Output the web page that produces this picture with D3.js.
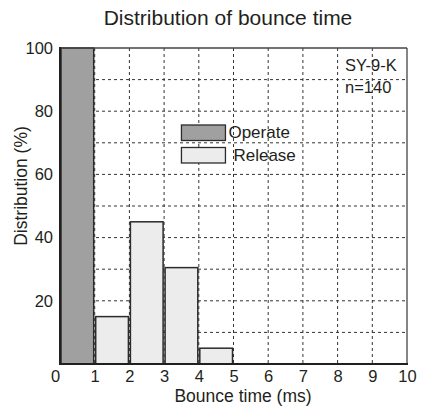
<!DOCTYPE html>
<html>
<head>
<meta charset="utf-8">
<script src="https://cdn.jsdelivr.net/npm/d3@7"></script>
<style>
  body { margin: 0; background: #fff; }
  text { font-family: "Liberation Sans", Arial, sans-serif; fill: #231f20; }
</style>
</head>
<body>
<script>
	// bins (ms) and percent values
	var operateBins = [[0, 1]];
	var operateValues = [100];
	var releaseBins = [[1, 2], [2, 3], [3, 4], [4, 5]];
	var releaseValues = [15, 45, 30.5, 5];
	var xTicks = [0, 1, 2, 3, 4, 5, 6, 7, 8, 9, 10];
	var yTicks = [20, 40, 60, 80, 100];
	var gridY = [10, 20, 30, 40, 50, 60, 70, 80, 90];
	var gridX = [1, 2, 3, 4, 5, 6, 7, 8, 9];
	var legendNames = ["Operate", "Release"];
	var colors = ["#a0a0a0", "#ececec"];

	var svg_w = 424, svg_h = 409;
	var svg = d3.select("body").append("svg")
		.attr("width", svg_w)
		.attr("height", svg_h);

	// plot box (window.top is read-only, so use other names)
	var pLeft = 60, pRight = 407, pTop = 48, pBottom = 364;

	var x = d3.scaleLinear().domain([0, 10]).range([pLeft, pRight]);
	var y = d3.scaleLinear().domain([0, 100]).range([pBottom, pTop]);

	// dashed grid
	var grid = svg.append("g")
		.attr("stroke", "#333")
		.attr("stroke-width", 1)
		.attr("stroke-dasharray", "3,3");
	grid.selectAll(".gy").data(gridY).enter().append("line")
		.attr("x1", pLeft).attr("x2", pRight)
		.attr("y1", d => y(d)).attr("y2", d => y(d));
	grid.selectAll(".gx").data(gridX).enter().append("line")
		.attr("y1", pTop).attr("y2", pBottom)
		.attr("x1", d => x(d)).attr("x2", d => x(d));

	// bars
	function drawBars(bins, values, color) {
		svg.append("g").selectAll("rect")
			.data(bins)
			.enter()
			.append("rect")
			.attr("x", d => x(d[0]) + 1)
			.attr("width", d => x(d[1]) - x(d[0]) - 2)
			.attr("y", (d, i) => y(values[i]))
			.attr("height", (d, i) => y(0) - y(values[i]))
			.attr("fill", color)
			.attr("stroke", "#2b2b2b")
			.attr("stroke-width", 1.5);
	}
	drawBars(operateBins, operateValues, colors[0]);
	drawBars(releaseBins, releaseValues, colors[1]);

	// frame
	svg.append("line").attr("x1", pLeft).attr("x2", pRight).attr("y1", pTop).attr("y2", pTop)
		.attr("stroke", "#444").attr("stroke-width", 1.3);
	svg.append("line").attr("x1", pRight).attr("x2", pRight).attr("y1", pTop).attr("y2", pBottom)
		.attr("stroke", "#444").attr("stroke-width", 1.3);
	svg.append("line").attr("x1", pLeft).attr("x2", pLeft).attr("y1", pTop - 1).attr("y2", pBottom + 1)
		.attr("stroke", "#231f20").attr("stroke-width", 2);
	svg.append("line").attr("x1", pLeft - 1).attr("x2", pRight + 1).attr("y1", pBottom).attr("y2", pBottom)
		.attr("stroke", "#231f20").attr("stroke-width", 2);

	// axes (labels only)
	var xAxis = svg.append("g")
		.attr("transform", "translate(0," + pBottom + ")")
		.call(d3.axisBottom(x).tickValues(xTicks).tickSize(0).tickPadding(6));
	var yAxis = svg.append("g")
		.attr("transform", "translate(" + pLeft + ",0)")
		.call(d3.axisLeft(y).tickValues(yTicks).tickSize(0).tickPadding(7));
	[xAxis, yAxis].forEach(function(a) {
		a.select(".domain").remove();
		a.selectAll("text")
			.attr("font-family", "Liberation Sans, Arial, sans-serif")
			.attr("font-size", 16.5)
			.attr("fill", "#231f20");
	});
	xAxis.selectAll("text").filter(d => d == 0).attr("dx", -5);

	// titles
	svg.append("text")
		.attr("x", 228).attr("y", 25)
		.attr("text-anchor", "middle")
		.attr("font-size", 21)
		.text("Distribution of bounce time");
	svg.append("text")
		.attr("x", 243).attr("y", 402)
		.attr("text-anchor", "middle")
		.attr("font-size", 17.5)
		.text("Bounce time (ms)");
	svg.append("text")
		.attr("transform", "translate(27,186) rotate(-90)")
		.attr("text-anchor", "middle")
		.attr("font-size", 17.5)
		.text("Distribution (%)");

	// annotation
	svg.append("text").attr("x", 345).attr("y", 71).attr("font-size", 16.5).text("SY-9-K");
	svg.append("text").attr("x", 345).attr("y", 93).attr("font-size", 16.5).text("n=140");

	// legend
	var legend = svg.append("g");
	legendNames.forEach(function(name, i) {
		var ly = y(75) - 2 + i * 22.5;
		legend.append("rect")
			.attr("x", x(3.5)).attr("y", ly)
			.attr("width", 44).attr("height", 15.5)
			.attr("fill", colors[i])
			.attr("stroke", "#2b2b2b")
			.attr("stroke-width", 1.3);
		legend.append("text")
			.attr("x", x(3.5) + 47 + i * 5)
			.attr("y", ly + 13)
			.attr("font-size", 17)
			.text(name);
	});
</script>
</body>
</html>
